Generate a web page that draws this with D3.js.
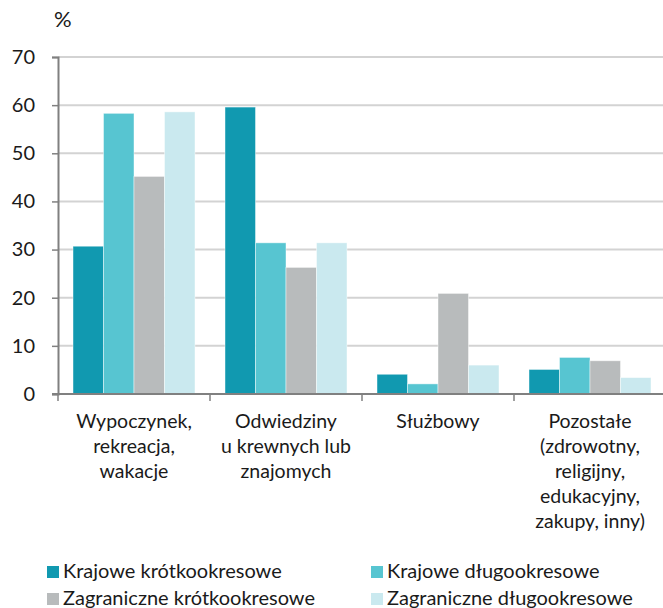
<!DOCTYPE html>
<html>
<head>
<meta charset="utf-8">
<script src="https://cdn.jsdelivr.net/npm/d3@7"></script>
<style>
  html, body { margin: 0; padding: 0; background: #fff; }
  svg { display: block; font-family: "Lato", "Noto Sans", sans-serif; }
</style>
</head>
<body>
<div id="chart"></div>
<script>
// ── 資料 ──────────────────────────────────────────────
const categories = [
  ["Wypoczynek,", "rekreacja,", "wakacje"],
  ["Odwiedziny", "u krewnych lub", "znajomych"],
  ["Służbowy"],
  ["Pozostałe", "(zdrowotny,", "religijny,", "edukacyjny,", "zakupy, inny)"]
];
const seriesNames = [
  "Krajowe krótkookresowe",
  "Krajowe długookresowe",
  "Zagraniczne krótkookresowe",
  "Zagraniczne długookresowe"
];
const krajoweKrotko     = [30.7, 59.6, 4.1, 5.1];
const krajoweDlugo      = [58.3, 31.4, 2.1, 7.6];
const zagraniczneKrotko = [45.2, 26.3, 20.9, 6.9];
const zagraniczneDlugo  = [58.6, 31.4, 6.0, 3.4];
const yTicks = [0, 10, 20, 30, 40, 50, 60, 70];

const seriesValues = [krajoweKrotko, krajoweDlugo, zagraniczneKrotko, zagraniczneDlugo];
const COLORS = ["#1199b0", "#57c5d1", "#b8bbbc", "#cae9ef"];

// ── 版面 ──────────────────────────────────────────────
const W = 663, H = 608;
const M = { left: 58, top: 57, bottom: 394 };
const BAND = 152;
const FS = 19.5;   // 類別標籤
const LEG_FS = 20; // 圖例

const svg = d3.select("#chart").append("svg")
  .attr("width", W).attr("height", H);

const y = d3.scaleLinear().domain([0, 70]).range([M.bottom, M.top]);
const catIdx = categories.map((_, i) => i);
const x0 = d3.scaleBand().domain(catIdx)
  .range([M.left, M.left + BAND * categories.length]).padding(0);
const x1 = d3.scaleBand().domain(d3.range(seriesNames.length))
  .range([15, x0.bandwidth() - 15]).padding(0);

// 格線
svg.append("g")
  .selectAll("line")
  .data(yTicks.filter(t => t > 0))
  .join("line")
  .attr("x1", M.left).attr("x2", W)
  .attr("y1", d => y(d)).attr("y2", d => y(d))
  .attr("stroke", "#d3d3d3").attr("stroke-width", 2);

// 長條
const rows = categories.map((c, i) => seriesValues.map((s, j) => ({ i, j, v: s[i] })));
svg.append("g")
  .selectAll("g")
  .data(rows)
  .join("g")
  .attr("transform", (d, i) => `translate(${x0(i)},0)`)
  .selectAll("rect")
  .data(d => d)
  .join("rect")
  .attr("x", d => x1(d.j))
  .attr("width", x1.bandwidth())
  .attr("y", d => y(d.v))
  .attr("height", d => y(0) - y(d.v))
  .attr("fill", d => COLORS[d.j])
  .attr("stroke", "rgba(255,255,255,0.55)")
  .attr("stroke-width", 0.8);

// Y 軸
const yAxis = svg.append("g")
  .attr("transform", `translate(${M.left},0)`)
  .call(d3.axisLeft(y).tickValues(yTicks).tickSize(6).tickPadding(10).tickFormat(d3.format("d")));
yAxis.select(".domain").attr("stroke", "#808080").attr("stroke-width", 2);
yAxis.selectAll(".tick line").attr("stroke", "#808080").attr("stroke-width", 1.5);
yAxis.selectAll(".tick text")
  .attr("font-size", 20).attr("font-family", "Lato, sans-serif")
  .attr("fill", "#1a1a1a").attr("x", -23);

// X 軸
const xAxisG = svg.append("g");
xAxisG.append("line")
  .attr("x1", M.left - 6).attr("x2", W)
  .attr("y1", y(0)).attr("y2", y(0))
  .attr("stroke", "#808080").attr("stroke-width", 2);
xAxisG.selectAll("line.tk")
  .data(catIdx)
  .join("line")
  .attr("class", "tk")
  .attr("x1", d => x0(d)).attr("x2", d => x0(d))
  .attr("y1", y(0)).attr("y2", y(0) + 7)
  .attr("stroke", "#808080").attr("stroke-width", 1.5);

// 類別標籤
const catText = xAxisG.selectAll("text.cat")
  .data(categories)
  .join("text")
  .attr("class", "cat")
  .attr("text-anchor", "middle")
  .attr("font-size", FS)
  .attr("fill", "#1a1a1a")
  .attr("x", (d, i) => x0(i) + x0.bandwidth() / 2)
  .attr("y", 428);
catText.selectAll("tspan")
  .data(d => d)
  .join("tspan")
  .attr("x", function () { return this.parentNode.getAttribute("x"); })
  .attr("dy", (d, k) => k === 0 ? 0 : 25)
  .text(d => d);

// 單位
svg.append("text")
  .attr("x", 54).attr("y", 27)
  .attr("font-size", 22).attr("fill", "#1a1a1a")
  .text("%");

// 圖例
const legPos = [[47, 566], [371, 566], [47, 593], [371, 593]];
const leg = svg.append("g")
  .selectAll("g")
  .data(seriesNames)
  .join("g")
  .attr("transform", (d, i) => `translate(${legPos[i][0]},${legPos[i][1]})`);
leg.append("rect")
  .attr("width", 12).attr("height", 12)
  .attr("fill", (d, i) => COLORS[i]);
leg.append("text")
  .attr("x", 16).attr("y", 12)
  .attr("font-size", LEG_FS).attr("fill", "#1a1a1a")
  .text(d => d);
</script>
</body>
</html>
